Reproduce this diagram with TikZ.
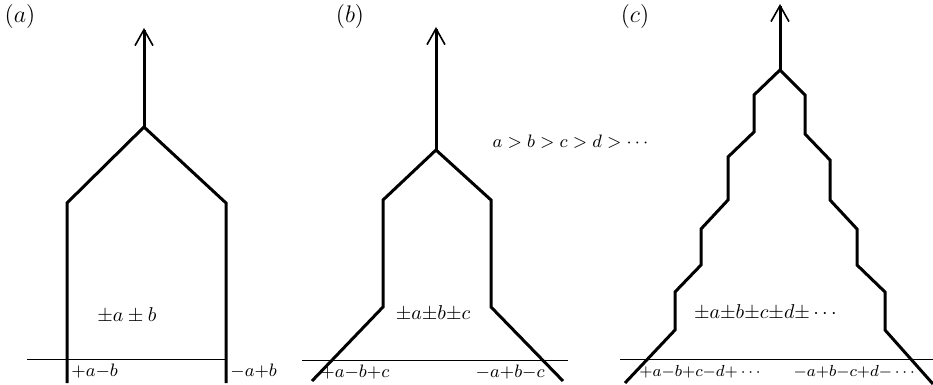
\documentclass[tikz,border=0pt]{standalone}
\usepackage{amsmath,amssymb}
\usepackage{tikz}
\usetikzlibrary{arrows.meta,positioning,calc}

\begin{document}
\begin{tikzpicture}[x=0.5pt, y=-0.5pt, >={Straight Barb[length=8pt,width=9pt,line width=0.8pt]}, wall/.style={line width=1.5pt, line join=miter}, ground/.style={line width=0.5pt}, lbl/.style={inner sep=1pt, font=\small}, sum/.style={inner sep=1pt}, tag/.style={inner sep=0pt, font=\large}]
\useasboundingbox (0,0) rectangle (933,385);

  % Define coordinates for nodes
\coordinate (Ta) at (144,28); \coordinate (Aa) at (144,127); \coordinate (Tb) at (436,27); \coordinate (Ab) at (436,150); \coordinate (Tc) at (780,4); \coordinate (Ac) at (780,70);
\coordinate (Ga1) at (27,359); \coordinate (Ga2) at (227,359); \coordinate (Gb1) at (302,360); \coordinate (Gb2) at (568,360); \coordinate (Gc1) at (620,359); \coordinate (Gc2) at (933,359);

  % Labels
\node[tag] (capa) at (20,17) {$(a)$}; \node[tag] (capb) at (350,17) {$(b)$}; \node[tag] (capc) at (635,17) {$(c)$};
\node[sum] (suma) at (127,315) {$\pm a\pm b$}; \node[sum] (sumb) at (433,313) {${\pm}a{\pm}b{\pm}c$}; \node[sum] (sumc) at (767,312) {${\pm}a{\pm}b{\pm}c{\pm}d{\pm}\cdots$};
\node[lbl, anchor=west] (la) at (69,371) {${+}a{-}b$}; \node[lbl, anchor=west] (ra) at (228,371) {${-}a{+}b$};
\node[lbl, anchor=west] (lb) at (318,372) {${+}a{-}b{+}c$}; \node[lbl, anchor=east] (rb) at (547,372) {${-}a{+}b{-}c$};
\node[lbl, anchor=west, font=\footnotesize] (lc) at (637,372) {${+}a{-}b{+}c{-}d{+}\cdots$}; \node[lbl, anchor=east, font=\footnotesize] (rc) at (920,372) {${-}a{+}b{-}c{+}d{-}\cdots$};
\node[lbl] (order) at (572,142) {$a>b>c>d>\cdots$};

  % Draw outlines
\draw[wall] (67,383) -- (67,203) -- (Aa) -- (226,203) -- (226,383);
\draw[wall] (312,381) -- (383,307) -- (383,200) -- (Ab) -- (491,200) -- (491,307) -- (563,381);
\draw[wall] (625,383) -- (675,330) -- (675,292) -- (701,265) -- (701,229) -- (728,200) -- (728,157) -- (754,132) -- (754,95) -- (Ac) -- (805,95) -- (805,134) -- (830,160) -- (830,200) -- (857,229) -- (857,265) -- (885,292) -- (885,330) -- (933,384);
\draw[ground] (Ga1) -- (Ga2); \draw[ground] (Gb1) -- (Gb2); \draw[ground] (Gc1) -- (Gc2);

  % Draw arrows between nodes
\draw[wall, ->] (Aa) -- (Ta); \draw[wall, ->] (Ab) -- (Tb); \draw[wall, ->] (Ac) -- (Tc);

\end{tikzpicture}
\end{document}
